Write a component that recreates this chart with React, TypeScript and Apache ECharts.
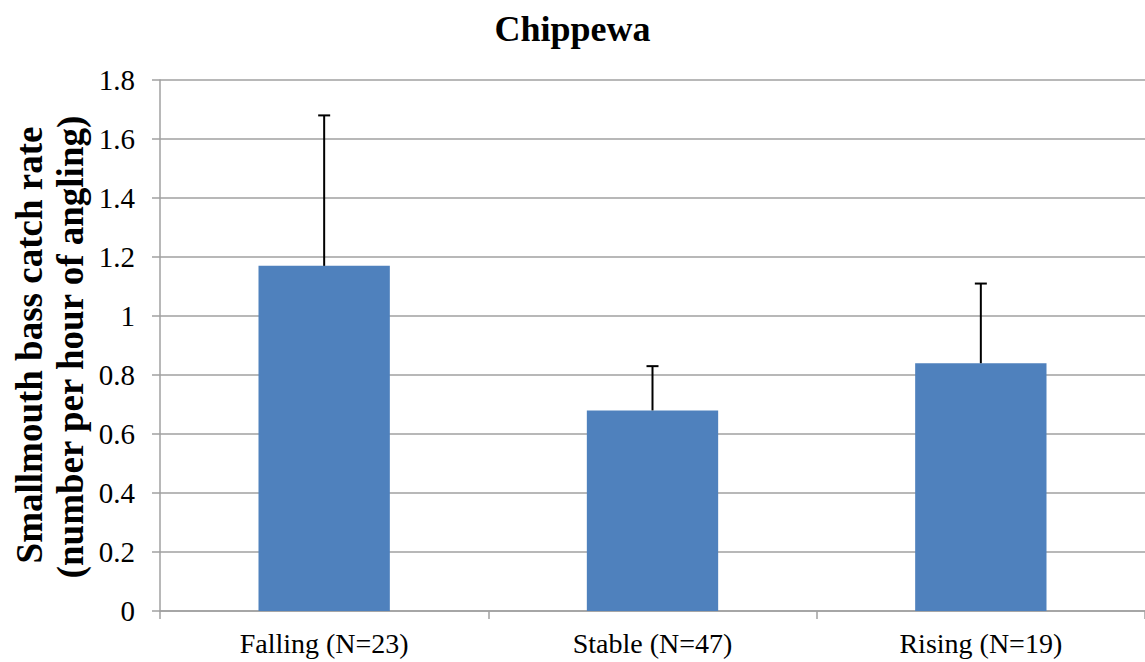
import React, { useEffect, useRef } from "react";
import * as echarts from "echarts";

const categories = ["Falling (N=23)", "Stable (N=47)", "Rising (N=19)"];
const catchRate = [1.17, 0.68, 0.84];
const upperError = [1.68, 0.83, 1.11];
const yTicks = { min: 0, max: 1.8, interval: 0.2 };
const titleText = "Chippewa";
const yTitleLines = ["Smallmouth bass catch rate", "(number per hour of angling)"];

const FONT = "Liberation Serif";

export default function App() {
  const ref = useRef<HTMLDivElement>(null);
  useEffect(() => {
    if (!ref.current) return;
    const chart = echarts.init(ref.current, null, { renderer: "svg" });
    chart.setOption({
      animation: false,
      backgroundColor: "#ffffff",
      textStyle: { fontFamily: FONT },
      title: {
        text: titleText,
        left: "center",
        top: 6,
        textStyle: { fontFamily: FONT, fontSize: 36, fontWeight: "bold", color: "#000" },
      },
      grid: { left: 160, right: 0, top: 80, bottom: 51, containLabel: false },
      xAxis: {
        type: "category",
        data: categories,
        axisLine: { lineStyle: { color: "#a0a0a0", width: 1.5 } },
        axisTick: { show: true, length: 8, alignWithLabel: false, lineStyle: { color: "#a0a0a0", width: 1.5 } },
        axisLabel: { fontFamily: FONT, fontSize: 28, color: "#000", margin: 18 },
      },
      yAxis: {
        type: "value",
        min: yTicks.min,
        max: yTicks.max,
        interval: yTicks.interval,
        axisLine: { show: true, lineStyle: { color: "#a0a0a0", width: 1.5 } },
        axisTick: { show: true, length: 8, inside: false, lineStyle: { color: "#a0a0a0", width: 1.5 } },
        splitLine: { show: true, lineStyle: { color: "#a0a0a0", width: 1.5 } },
        axisLabel: {
          fontFamily: FONT,
          fontSize: 29,
          color: "#000",
          margin: 25,
          formatter: (v: number) => String(Math.round(v * 10) / 10),
        },
      },
      graphic: [
        {
          type: "text",
          x: 29,
          y: 345,
          rotation: Math.PI / 2,
          style: {
            text: yTitleLines[0],
            fontFamily: FONT,
            fontSize: 37,
            fontWeight: "bold",
            fill: "#000",
            align: "center",
            verticalAlign: "middle",
          },
        },
        {
          type: "text",
          x: 70,
          y: 347,
          rotation: Math.PI / 2,
          style: {
            text: yTitleLines[1],
            fontFamily: FONT,
            fontSize: 37,
            fontWeight: "bold",
            fill: "#000",
            align: "center",
            verticalAlign: "middle",
          },
        },
      ],
      series: [
        {
          type: "bar",
          data: catchRate,
          barWidth: "40%",
          itemStyle: { color: "#4f81bd" },
        },
        {
          type: "custom",
          data: categories.map((_, i) => [i, catchRate[i], upperError[i]]),
          renderItem: (params: any, api: any) => {
            const x = api.value(0);
            const base = api.coord([x, api.value(1)]);
            const top = api.coord([x, api.value(2)]);
            const half = 6;
            return {
              type: "group",
              children: [
                {
                  type: "line",
                  shape: { x1: base[0], y1: base[1], x2: top[0], y2: top[1] },
                  style: { stroke: "#000", lineWidth: 2 },
                },
                {
                  type: "line",
                  shape: { x1: top[0] - half, y1: top[1], x2: top[0] + half, y2: top[1] },
                  style: { stroke: "#000", lineWidth: 2 },
                },
              ],
            };
          },
          z: 10,
        },
      ],
    });
    return () => chart.dispose();
  }, []);
  return (
    <div
      ref={ref}
      style={{ position: "absolute", left: 0, top: 0, width: 1145, height: 662 }}
    />
  );
}
